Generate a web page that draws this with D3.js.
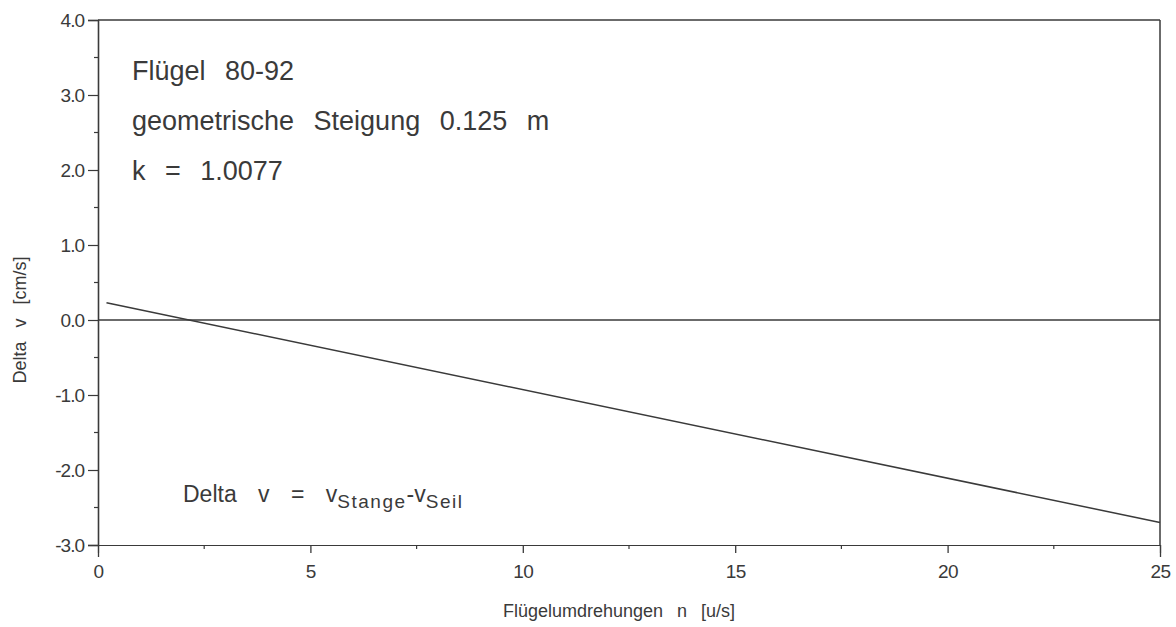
<!DOCTYPE html>
<html>
<head>
<meta charset="utf-8">
<script src="https://cdn.jsdelivr.net/npm/d3@7"></script>
<style>
  body { margin: 0; background: #fff; }
  svg text { font-family: "Liberation Sans", Arial, sans-serif; fill: #3a3a3a; white-space: pre; }
  .axis path, .axis line { stroke: #3a3a3a; }
</style>
</head>
<body>
<div id="chart"></div>
<script>
// values
var xTicks = [0, 5, 10, 15, 20, 25];
var xMinor = [2.5, 7.5, 12.5, 17.5, 22.5];
var yTicks = [-3, -2, -1, 0, 1, 2, 3, 4];
var yMinor = [-2.5, -1.5, -0.5, 0.5, 1.5, 2.5, 3.5];
var lineN = [0.2, 25];
var lineDv = [0.23, -2.7];
var infoLines = ["Flügel 80-92", "geometrische Steigung 0.125 m", "k = 1.0077"];

var W = 1176, H = 627;
var margin = { top: 20, right: 16, bottom: 82, left: 98 };
var width = W - margin.left - margin.right,
    height = H - margin.top - margin.bottom;

var svg = d3.select("#chart").append("svg")
  .attr("width", W)
  .attr("height", H);

var g = svg.append("g")
  .attr("transform", "translate(" + margin.left + "," + margin.top + ")");

var x = d3.scaleLinear().domain([0, 25]).range([0, width]);
var y = d3.scaleLinear().domain([-3, 4]).range([height, 0]);

// frame top + right
g.append("line").attr("x1", 0).attr("x2", width).attr("y1", 0).attr("y2", 0)
  .attr("stroke", "#3a3a3a").attr("stroke-width", 1.3);
g.append("line").attr("x1", width).attr("x2", width).attr("y1", 0).attr("y2", height)
  .attr("stroke", "#3a3a3a").attr("stroke-width", 1.5);

// x axis
var xAxis = d3.axisBottom(x)
  .tickValues(xTicks)
  .tickSize(8)
  .tickPadding(12)
  .tickFormat(d3.format("d"));

var gx = g.append("g")
  .attr("class", "x axis")
  .attr("transform", "translate(0," + height + ")")
  .call(xAxis);
gx.select(".domain").attr("stroke-width", 1.2);
gx.selectAll(".tick line").attr("stroke-width", 1.3)
  .attr("y2", function(d) { return (d === 0 || d === 25) ? 12 : 8; });
gx.selectAll(".tick text").style("font-size", "19px").style("letter-spacing", "-0.5px");

gx.selectAll(".minor").data(xMinor).enter().append("line")
  .attr("class", "minor")
  .attr("x1", function(d) { return x(d); })
  .attr("x2", function(d) { return x(d); })
  .attr("y1", 0).attr("y2", 4)
  .attr("stroke", "#3a3a3a").attr("stroke-width", 1.2);

gx.append("text")
  .attr("x", width / 2 - 10)
  .attr("y", 72)
  .attr("text-anchor", "middle")
  .style("font-size", "18px")
  .style("word-spacing", "9px")
  .text("Flügelumdrehungen n [u/s]");

// y axis
var yAxis = d3.axisLeft(y)
  .tickValues(yTicks)
  .tickSize(10)
  .tickPadding(4)
  .tickFormat(function(d) { return d3.format(".1f")(d).replace("\u2212", "-"); });

var gy = g.append("g")
  .attr("class", "y axis")
  .call(yAxis);
gy.select(".domain").attr("stroke-width", 1.6);
gy.selectAll(".tick line").attr("stroke-width", 1.2);
gy.selectAll(".tick text").style("font-size", "19px").style("letter-spacing", "-1px");

gy.selectAll(".minor").data(yMinor).enter().append("line")
  .attr("class", "minor")
  .attr("x1", -4).attr("x2", 0)
  .attr("y1", function(d) { return y(d); })
  .attr("y2", function(d) { return y(d); })
  .attr("stroke", "#3a3a3a").attr("stroke-width", 1.2);

gy.append("text")
  .attr("transform", "rotate(-90)")
  .attr("x", -y(0))
  .attr("y", -72)
  .attr("text-anchor", "middle")
  .style("font-size", "18px")
  .style("word-spacing", "9px")
  .text("Delta v [cm/s]");

// zero line
g.append("line")
  .attr("x1", 0).attr("x2", width)
  .attr("y1", y(0)).attr("y2", y(0))
  .attr("stroke", "#3a3a3a").attr("stroke-width", 1.3);

// regression line
var line = d3.line()
  .x(function(d) { return x(d[0]); })
  .y(function(d) { return y(d[1]); });

g.append("path")
  .datum(d3.zip(lineN, lineDv))
  .attr("d", line)
  .attr("fill", "none")
  .attr("stroke", "#3a3a3a")
  .attr("stroke-width", 1.5);

// info text
g.selectAll(".info").data(infoLines).enter().append("text")
  .attr("class", "info")
  .attr("x", 34)
  .attr("y", function(d, i) { return 60 + i * 50; })
  .style("font-size", "27px")
  .style("word-spacing", "12px")
  .text(function(d) { return d; });

// formula
var f = g.append("text")
  .attr("x", 85)
  .attr("y", y(-2.4) + 2)
  .style("font-size", "23px")
  .style("word-spacing", "15px");
f.append("tspan").text("Delta v = v");
f.append("tspan").attr("dy", 6).style("font-size", "19px").style("letter-spacing", "1.5px").style("word-spacing", "0").text("Stange");
f.append("tspan").attr("dy", -6).style("word-spacing", "0").text("-v");
f.append("tspan").attr("dy", 6).style("font-size", "19px").style("letter-spacing", "1.5px").style("word-spacing", "0").text("Seil");
</script>
</body>
</html>
